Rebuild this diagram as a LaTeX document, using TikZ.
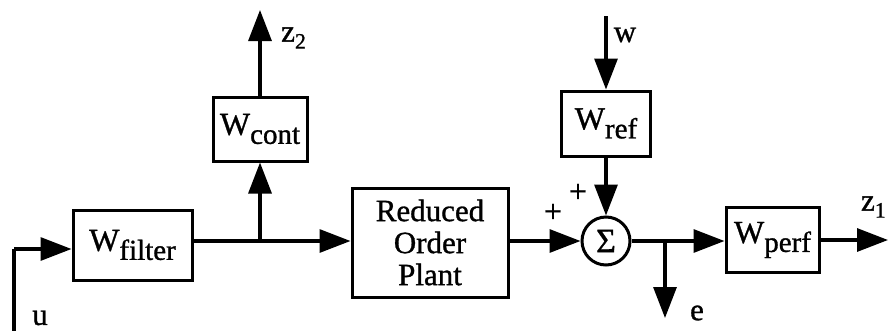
\documentclass[tikz,border=0pt]{standalone}
\usepackage{fontspec}
\setmainfont{Liberation Serif}[FakeBold=1]
\usetikzlibrary{arrows.meta,calc}
\newcommand{\wsb}[1]{{\fontsize{32}{32}\selectfont W}\raisebox{-9pt}{\fontsize{29}{29}\selectfont #1}}
\newcommand{\zsb}[1]{z\raisebox{-7pt}{\fontsize{22}{22}\selectfont #1}}
\begin{document}
\begin{tikzpicture}[x=1pt,y=-1pt,
  blk/.style={draw, line width=3pt, inner sep=0pt, font=\fontsize{31}{32}\selectfont},
  ln/.style={line width=3.2pt},
  arr/.style={line width=3.2pt, -{Triangle[length=31pt,width=23pt]}},
  lbl/.style={inner sep=0pt, font=\fontsize{31}{31}\selectfont},
  pls/.style={inner sep=0pt, font=\fontsize{32}{32}\selectfont}]
\useasboundingbox (0,0) rectangle (888,330);
% blocks
\node[blk, minimum width=119pt, minimum height=70pt] (wf) at (132.5,245) {\wsb{filter}};
\node[blk, minimum width=94pt, minimum height=64pt] (wc) at (260,129) {\wsb{cont}};
\node[blk, minimum width=156pt, minimum height=109pt, align=center] (rop) at (430,242.5) {Reduced\\Order\\Plant};
\node[blk, circle, minimum size=48pt, font=\fontsize{34}{34}\selectfont] (sum) at (606,241) {Σ};
\node[blk, minimum width=89pt, minimum height=65pt] (wr) at (606,123.5) {\wsb{ref}};
\node[blk, minimum width=93pt, minimum height=65pt] (wp) at (772.5,240) {\wsb{perf}};
% coordinates
\coordinate (ubot) at (14,340);
\coordinate (ucorner) at (14,249);
\coordinate (br1) at (260,241);
\coordinate (z2end) at (260,10);
\coordinate (wtop) at (606,16);
\coordinate (br2) at (665,241);
\coordinate (eend) at (665,318);
\coordinate (z1end) at (888,240);
% connectors
\draw[ln] (ubot) -- (ucorner);
\draw[arr] (ucorner) -- (ucorner -| wf.west);
\draw[ln] (wf.east |- br1) -- (br1);
\draw[arr] (br1) -- (rop.west |- br1);
\draw[arr] (br1) -- (wc.south);
\draw[arr] (wc.north) -- (z2end);
\draw[arr] (wtop) -- (wr.north);
\draw[arr] (wr.south) -- (sum.north);
\draw[arr] (rop.east |- sum) -- (sum.west);
\draw[ln] (sum.east) -- (br2);
\draw[arr] (br2) -- (wp.west |- br2);
\draw[arr] (br2) -- (eend);
\draw[arr] (wp.east) -- (z1end);
% labels
\node[lbl] (lu) at (40,318) {u};
\node[lbl] (lw) at (625,35) {w};
\node[lbl] (le) at (697,313) {e};
\node[lbl, anchor=west] (lz2) at (281,38) {\zsb{2}};
\node[lbl, anchor=east] (lz1) at (886,207) {\zsb{1}};
\node[pls] (p1) at (553,213) {+};
\node[pls] (p2) at (578,193) {+};
\end{tikzpicture}
\end{document}
